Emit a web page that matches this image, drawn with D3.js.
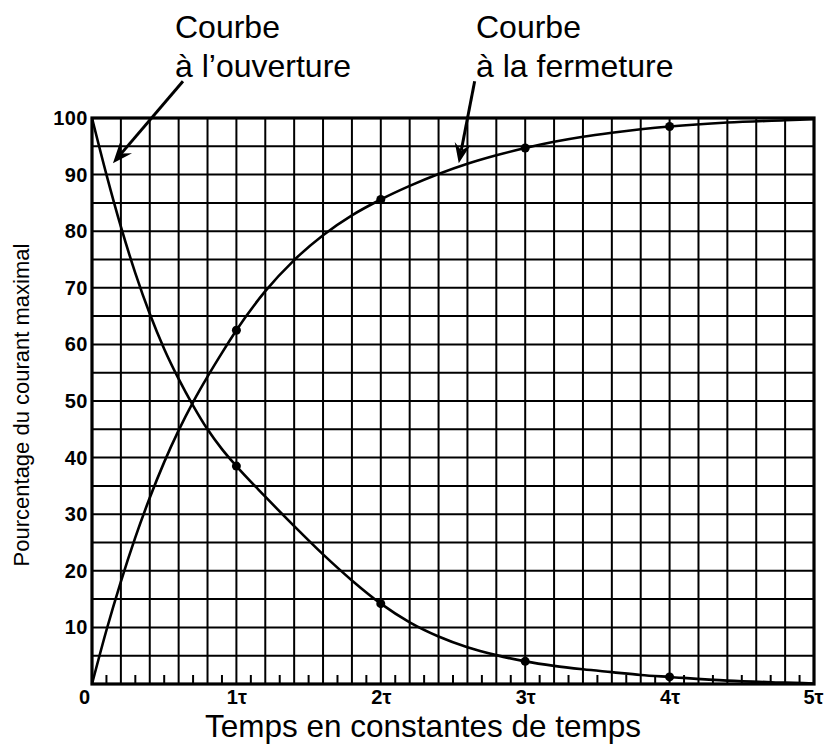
<!DOCTYPE html>
<html>
<head>
<meta charset="utf-8">
<script src="https://cdn.jsdelivr.net/npm/d3@7"></script>
<style>
  html, body { margin: 0; padding: 0; background: #fff; }
  svg { display: block; }
  text { font-family: "Liberation Sans", Arial, Helvetica, sans-serif; fill: #000; }
</style>
</head>
<body>
<svg id="chart" width="829" height="748"></svg>
<script>
// Time in time constants (tau)
const times = [0, 0.1, 0.2, 0.3, 0.4, 0.5, 0.6, 0.7, 0.8, 0.9, 1.0,
               1.2, 1.4, 1.6, 1.8, 2.0, 2.2, 2.4, 2.6, 2.8, 3.0,
               3.2, 3.4, 3.6, 3.8, 4.0, 4.4, 4.8, 5.0];
// Current when the circuit is closed (rising curve), % of maximum
const closingValues = [0, 9.5, 18.1, 25.9, 32.9, 39.2, 44.8, 49.8, 54.3, 58.5, 62.5,
                       69.4, 74.9, 79.3, 82.8, 85.6, 88.0, 90.1, 91.9, 93.4, 94.7,
                       95.8, 96.7, 97.4, 98.0, 98.5, 99.2, 99.6, 99.8];
// Current when the circuit is opened (falling curve), % of maximum
const openingValues = [100, 90, 80.8, 72.6, 65.4, 59.2, 53.9, 49.2, 45.0, 41.5, 38.5,
                       33.1, 27.9, 22.9, 18.3, 14.2, 10.9, 8.4, 6.5, 5.1, 4.0,
                       3.2, 2.6, 2.1, 1.6, 1.25, 0.6, 0.25, 0.1];
// Marked instants on both curves
const markedTimes = [1, 2, 3, 4];
// Tick labels
const xTickValues = [0, 1, 2, 3, 4, 5];
const xTickLabels = ["0", "1τ", "2τ", "3τ", "4τ", "5τ"];
const yTickValues = [10, 20, 30, 40, 50, 60, 70, 80, 90, 100];

const svg = d3.select("#chart");
const plotLeft = 92, plotRight = 814, plotTop = 118, plotBottom = 684;

const x = d3.scaleLinear().domain([0, 5]).range([plotLeft, plotRight]);
const y = d3.scaleLinear().domain([0, 100]).range([plotBottom, plotTop]);

// Grid: columns every 0.2 tau, rows every 5 %
const grid = svg.append("g").attr("stroke", "#000").attr("stroke-width", 2);
grid.selectAll("line.v")
  .data(d3.range(0, 26).map(i => i * 0.2))
  .join("line").attr("class", "v")
  .attr("x1", d => x(d)).attr("x2", d => x(d))
  .attr("y1", y(0)).attr("y2", y(100));
grid.selectAll("line.h")
  .data(d3.range(0, 21).map(i => i * 5))
  .join("line").attr("class", "h")
  .attr("x1", x(0)).attr("x2", x(5))
  .attr("y1", d => y(d)).attr("y2", d => y(d));

// Minor ticks on the time axis every 0.1 tau
grid.selectAll("line.minor")
  .data(d3.range(0, 25).map(i => i * 0.2 + 0.1))
  .join("line").attr("class", "minor")
  .attr("x1", d => x(d)).attr("x2", d => x(d))
  .attr("y1", y(0)).attr("y2", y(0) - 9);

// Frame
svg.append("rect")
  .attr("x", x(0)).attr("y", y(100))
  .attr("width", x(5) - x(0)).attr("height", y(0) - y(100))
  .attr("fill", "none").attr("stroke", "#000").attr("stroke-width", 3.2);

// Y axis labels
const yAxis = d3.axisLeft(y).tickValues(yTickValues).tickSize(0).tickPadding(4);
const gy = svg.append("g").attr("transform", `translate(${x(0)},0)`).call(yAxis);
gy.select(".domain").remove();
gy.selectAll("text")
  .style("font-family", '"Liberation Sans", Arial, sans-serif')
  .style("font-size", "20px").style("font-weight", "bold")
  .style("letter-spacing", "0.5px")
  .attr("fill", "#000");

// X axis labels
const xAxis = d3.axisBottom(x).tickValues(xTickValues).tickSize(0).tickPadding(6)
  .tickFormat((d, i) => xTickLabels[i]);
const gx = svg.append("g").attr("transform", `translate(0,${y(0)})`).call(xAxis);
gx.select(".domain").remove();
gx.selectAll("text")
  .style("font-family", '"Liberation Sans", Arial, sans-serif')
  .style("font-size", "20px").style("font-weight", "bold")
  .attr("fill", "#000")
  .attr("dx", d => d === 0 ? -8 : (d === 5 ? -1 : 0));

// Curves
const line = d3.line().x(d => x(d[0])).y(d => y(d[1])).curve(d3.curveMonotoneX);
const closing = times.map((t, i) => [t, closingValues[i]]);
const opening = times.map((t, i) => [t, openingValues[i]]);

svg.append("path").datum(closing).attr("d", line)
  .attr("fill", "none").attr("stroke", "#000").attr("stroke-width", 2.6);
svg.append("path").datum(opening).attr("d", line)
  .attr("fill", "none").attr("stroke", "#000").attr("stroke-width", 2.6);

// Points at whole time constants
const markers = [];
markedTimes.forEach(t => {
  const i = times.indexOf(t);
  markers.push([t, closingValues[i]]);
  markers.push([t, openingValues[i]]);
});
svg.selectAll("circle.mark").data(markers).join("circle").attr("class", "mark")
  .attr("cx", d => x(d[0])).attr("cy", d => y(d[1])).attr("r", 4.5)
  .attr("fill", "#000");

// Annotation arrows
function arrow(x1, y1, x2, y2) {
  const ang = Math.atan2(y2 - y1, x2 - x1);
  const len = 20, half = 8, notch = 13;
  const bx = x2 - len * Math.cos(ang), by = y2 - len * Math.sin(ang);
  const nx = -Math.sin(ang), ny = Math.cos(ang);
  const mx = x2 - notch * Math.cos(ang), my = y2 - notch * Math.sin(ang);
  svg.append("line")
    .attr("x1", x1).attr("y1", y1).attr("x2", mx).attr("y2", my)
    .attr("stroke", "#000").attr("stroke-width", 3);
  svg.append("path")
    .attr("d", `M${x2},${y2} L${bx + half * nx},${by + half * ny} L${mx},${my} L${bx - half * nx},${by - half * ny} Z`)
    .attr("fill", "#000");
}
arrow(x(0.63), y(106.5), x(0.145), y(92));
arrow(x(2.65), y(106.5), x(2.54), y(92));

// Annotation texts
const annFont = "32px";
svg.append("text").attr("x", 175).attr("y", 38).style("font-size", annFont).text("Courbe");
svg.append("text").attr("x", 175).attr("y", 77).style("font-size", annFont).text("à l’ouverture");
svg.append("text").attr("x", 476).attr("y", 38).style("font-size", annFont).text("Courbe");
svg.append("text").attr("x", 476).attr("y", 77).style("font-size", annFont).text("à la fermeture");

// Axis titles
svg.append("text")
  .attr("x", 423).attr("y", 737)
  .attr("text-anchor", "middle").style("font-size", "31.5px")
  .text("Temps en constantes de temps");
svg.append("text")
  .attr("transform", "translate(29,405) rotate(-90)")
  .attr("text-anchor", "middle").style("font-size", "22px")
  .text("Pourcentage du courant maximal");
</script>
</body>
</html>
